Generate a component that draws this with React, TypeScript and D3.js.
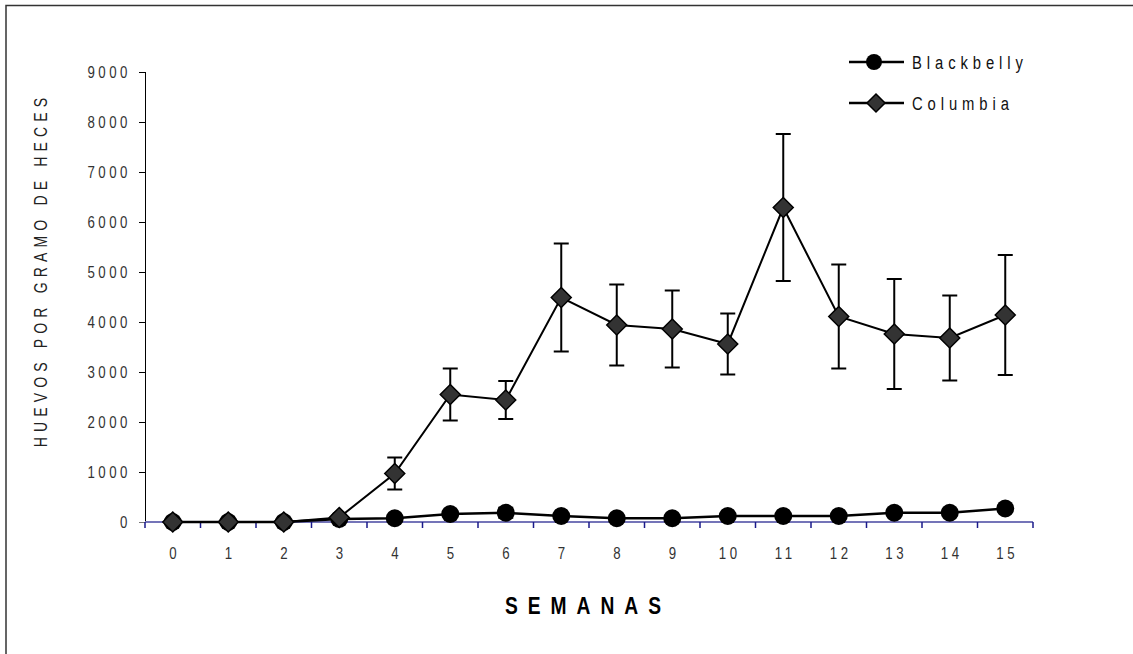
import React from "react";
import * as d3 from "d3";

// Weekly fecal egg counts (huevos por gramo de heces) for two sheep breeds
const weeks: number[] = [0, 1, 2, 3, 4, 5, 6, 7, 8, 9, 10, 11, 12, 13, 14, 15];
const blackbellyMean: number[] = [0, 0, 0, 60, 75, 160, 185, 120, 75, 75, 120, 120, 120, 185, 185, 270];
const blackbellyErr: number[] = [0, 0, 0, 20, 30, 50, 100, 40, 30, 30, 40, 40, 40, 50, 60, 60];
const columbiaMean: number[] = [0, 0, 0, 90, 970, 2550, 2440, 4490, 3940, 3860, 3560, 6290, 4110, 3760, 3680, 4140];
const columbiaErr: number[] = [0, 0, 0, 40, 320, 520, 380, 1080, 810, 770, 610, 1470, 1040, 1100, 850, 1200];
const yTicks: number[] = [0, 1000, 2000, 3000, 4000, 5000, 6000, 7000, 8000, 9000];
const seriesNames: string[] = ["Blackbelly", "Columbia"];

const W = 1133;
const H = 654;
const FONT = "'Liberation Sans', Arial, sans-serif";

// Condensed text: horizontally squeezed sans-serif with letter spacing
function NarrowText(props: {
  x: number;
  y: number;
  text: string;
  size: number;
  spacing: number;
  anchor?: "start" | "middle" | "end";
  squeeze?: number;
  rotate?: number;
  weight?: string;
  fill?: string;
}) {
  const { x, y, text, size, spacing, anchor = "start", squeeze = 0.78, rotate = 0, weight = "normal", fill = "#333" } = props;
  return (
    <text
      transform={`translate(${x},${y}) rotate(${rotate}) scale(${squeeze},1)`}
      textAnchor={anchor}
      fontFamily={FONT}
      fontSize={size}
      fontWeight={weight}
      letterSpacing={spacing}
      fill={fill}
    >
      {text}
    </text>
  );
}

export default function App() {
  const x = d3.scaleBand<number>().domain(weeks).range([145, 1033]);
  const y = d3.scaleLinear().domain([0, 9000]).range([522, 72]);
  const cx = (w: number) => (x(w) as number) + x.bandwidth() / 2;

  const line = d3
    .line<number>()
    .x((_, i) => cx(weeks[i]))
    .y((v) => y(v));

  const boundaries = weeks.map((w) => x(w) as number).concat([1033]);
  const capHalf = 7.5;

  const errorBars = (means: number[], errs: number[], key: string) =>
    means.map((m, i) =>
      errs[i] > 0 ? (
        <g key={`${key}-${i}`} stroke="#000" strokeWidth={2}>
          <line x1={cx(weeks[i])} x2={cx(weeks[i])} y1={y(m + errs[i])} y2={y(Math.max(0, m - errs[i]))} />
          <line x1={cx(weeks[i]) - capHalf} x2={cx(weeks[i]) + capHalf} y1={y(m + errs[i])} y2={y(m + errs[i])} />
          <line
            x1={cx(weeks[i]) - capHalf}
            x2={cx(weeks[i]) + capHalf}
            y1={y(Math.max(0, m - errs[i]))}
            y2={y(Math.max(0, m - errs[i]))}
          />
        </g>
      ) : null
    );

  const diamond = (px: number, py: number, r: number, key: string) => (
    <path
      key={key}
      d={`M${px},${py - r}L${px + r},${py}L${px},${py + r}L${px - r},${py}Z`}
      fill="#333333"
      stroke="#000"
      strokeWidth={1.5}
    />
  );

  return (
    <svg width={W} height={H} style={{ position: "absolute", left: 0, top: 0, background: "#fff" }}>
      {/* frame: top and left edges */}
      <path d={`M6,${H + 5}V5.5H${W + 5}`} fill="none" stroke="#333" strokeWidth={1.5} />

      {/* y axis */}
      <line x1={145.5} x2={145.5} y1={y(9000)} y2={y(0)} stroke="#000" strokeWidth={1} />
      {yTicks.map((t) => (
        <g key={`yt-${t}`}>
          <line x1={139} x2={145.5} y1={y(t) + 0.5} y2={y(t) + 0.5} stroke={t === 0 ? "#777" : "#000"} strokeWidth={1} />
          <NarrowText x={131} y={y(t) + 6} text={String(t)} size={17} spacing={4.5} anchor="end" />
        </g>
      ))}

      {/* x axis */}
      <line x1={145} x2={1033} y1={y(0)} y2={y(0)} stroke="#7474b8" strokeWidth={2} />
      {boundaries.map((bx, i) => (
        <line key={`xt-${i}`} x1={bx} x2={bx} y1={y(0)} y2={y(0) + 6} stroke="#1a1a8a" strokeWidth={1.5} />
      ))}
      {weeks.map((w) => (
        <NarrowText key={`xl-${w}`} x={cx(w) + 2} y={559} text={String(w)} size={17} spacing={4.5} anchor="middle" />
      ))}

      {/* axis titles */}
      <NarrowText
        x={47}
        y={270}
        rotate={-90}
        text="HUEVOS POR GRAMO DE HECES"
        size={18}
        spacing={6.6}
        anchor="middle"
        fill="#222"
      />
      <NarrowText
        x={588}
        y={614}
        text="SEMANAS"
        size={24}
        spacing={12.5}
        anchor="middle"
        weight="bold"
        squeeze={0.8}
        fill="#000"
      />

      {/* Blackbelly series */}
      <path d={line(blackbellyMean) ?? ""} fill="none" stroke="#000" strokeWidth={2.5} />
      {errorBars(blackbellyMean, blackbellyErr, "bb")}
      {blackbellyMean.map((v, i) => (
        <circle key={`bb-${i}`} cx={cx(weeks[i])} cy={y(v)} r={9} fill="#000" />
      ))}

      {/* Columbia series */}
      <path d={line(columbiaMean) ?? ""} fill="none" stroke="#000" strokeWidth={2} />
      {errorBars(columbiaMean, columbiaErr, "co")}
      {columbiaMean.map((v, i) => diamond(cx(weeks[i]), y(v), 10, `co-${i}`))}

      {/* legend */}
      <g>
        <line x1={849} x2={904} y1={62} y2={62} stroke="#000" strokeWidth={2.5} />
        <circle cx={874} cy={62} r={8} fill="#000" />
        <NarrowText x={912} y={69} text={seriesNames[0]} size={19} spacing={6.3} fill="#111" />
        <line x1={849} x2={904} y1={103} y2={103} stroke="#000" strokeWidth={2.5} />
        {diamond(876, 103, 9, "leg-co")}
        <NarrowText x={912} y={110} text={seriesNames[1]} size={19} spacing={6.3} fill="#111" />
      </g>
    </svg>
  );
}
